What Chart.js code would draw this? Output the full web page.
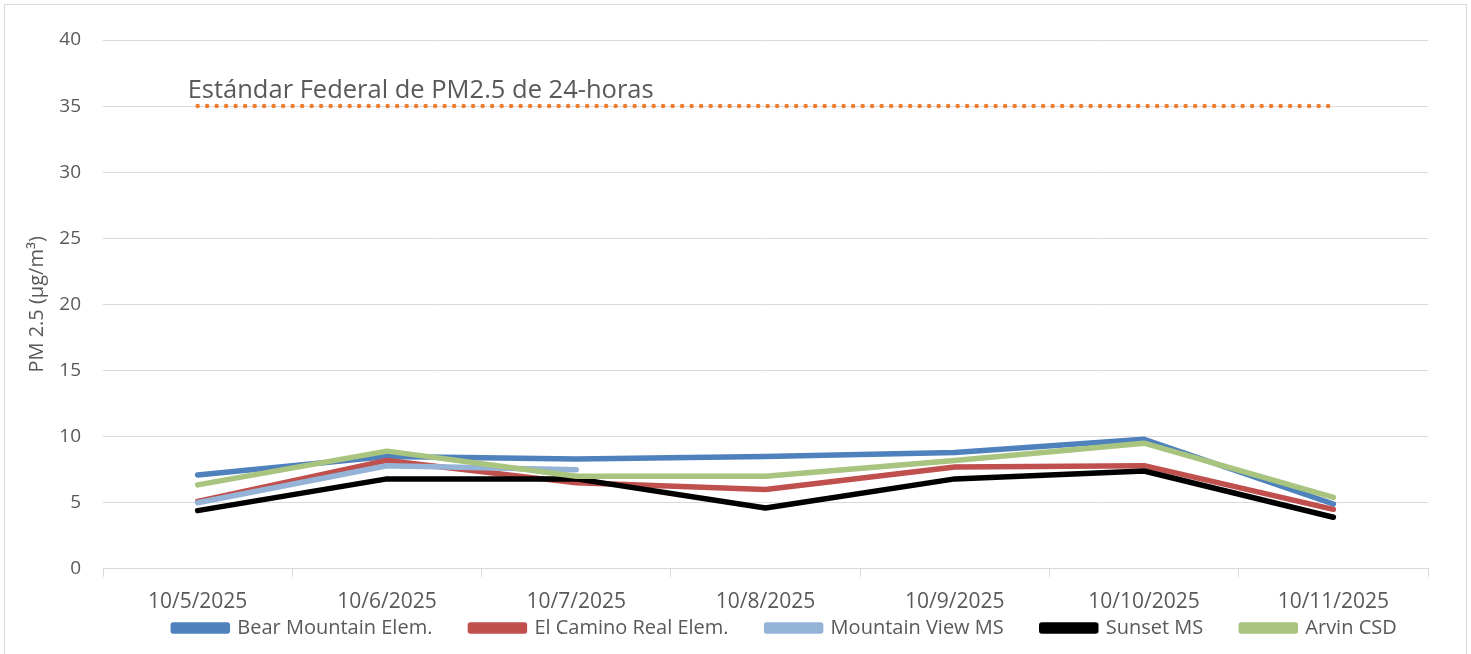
<!DOCTYPE html>
<html>
<head>
<meta charset="utf-8">
<script src="https://cdn.jsdelivr.net/npm/chart.js@4/dist/chart.umd.min.js"></script>
<style>
  html, body { margin: 0; padding: 0; background: #fff; overflow: hidden; }
  .frame { position: absolute; left: 4px; top: 4px; width: 1463px; height: 660px; border: 1px solid #d9d9d9; box-sizing: border-box; }
  .wrap { position: absolute; left: 0; top: 0; width: 1471px; height: 654px; }
</style>
</head>
<body>
<div class="frame"></div>
<div class="wrap"><canvas id="pmChart"></canvas></div>
<script>
const dates = ['10/5/2025', '10/6/2025', '10/7/2025', '10/8/2025', '10/9/2025', '10/10/2025', '10/11/2025'];

const bearMountain = [7.1, 8.5, 8.3, 8.5, 8.8, 9.8, 4.9];
const elCamino     = [5.1, 8.2, 6.5, 6.0, 7.7, 7.8, 4.5];
const mountainView = [5.0, 7.8, 7.5, null, null, null, null];
const sunset       = [4.4, 6.8, 6.8, 4.6, 6.8, 7.4, 3.9];
const arvin        = [6.35, 8.9, 7.0, 7.0, 8.2, 9.5, 5.4];
const federalStd   = [35, 35, 35, 35, 35, 35, 35];
const stdLabel = 'Estándar Federal de PM2.5 de 24-horas';

const grey = '#595959';
const fam = '"Open Sans", "Liberation Sans", sans-serif';

function series(label, data, color, order) {
    return {
        label: label,
        data: data,
        borderColor: color,
        backgroundColor: color,
        borderWidth: 5.5,
        pointRadius: 0,
        tension: 0,
        borderCapStyle: 'round',
        borderJoinStyle: 'round',
        spanGaps: false,
        order: order
    };
}

// writes the standard's caption just above the dotted line
const stdCaption = {
    id: 'stdCaption',
    afterDatasetsDraw(chart) {
        const ctx = chart.ctx;
        const x = chart.scales.x.getPixelForValue(0);
        const y = chart.scales.y.getPixelForValue(35);
        ctx.save();
        ctx.font = '25.5px ' + fam;
        ctx.fillStyle = grey;
        ctx.textBaseline = 'bottom';
        ctx.fillText(stdLabel, x - 10, y - 3);
        ctx.restore();
    }
};

// Excel puts the legend a bit right of centre, just under the dates
const legendNudge = {
    id: 'legendNudge',
    afterLayout(chart) {
        const lg = chart.legend;
        const h = lg.bottom - lg.top;
        lg.left += 71;
        lg.right += 71;
        lg.top = 580;
        lg.bottom = 580 + h;
    }
};

const ctx = document.getElementById('pmChart').getContext('2d');
new Chart(ctx, {
    type: 'line',
    data: {
        labels: dates,
        datasets: [
            series('Bear Mountain Elem.', bearMountain, '#4F81BD', 5),
            series('El Camino Real Elem.', elCamino, '#C0504D', 4),
            series('Mountain View MS', mountainView, '#95B3D7', 3),
            series('Sunset MS', sunset, '#000000', 2),
            series('Arvin CSD', arvin, '#A9C47F', 1),
            {
                label: 'std',
                data: federalStd,
                borderColor: '#ED7D31',
                borderWidth: 4.5,
                borderDash: [0, 9.5],
                borderCapStyle: 'round',
                pointRadius: 0,
                order: 0
            }
        ]
    },
    options: {
        responsive: true,
        maintainAspectRatio: false,
        animation: false,
        layout: { padding: { top: 40, right: 43, left: 0, bottom: -40 } },
        plugins: {
            legend: {
                position: 'bottom',
                labels: {
                    color: grey,
                    font: { size: 20, family: fam },
                    boxWidth: 54,
                    boxHeight: 6,
                    padding: 38,
                    filter: item => item.text !== 'std',
                    sort: (a, b) => a.datasetIndex - b.datasetIndex
                }
            },
            tooltip: { enabled: false }
        },
        scales: {
            x: {
                offset: true,
                afterFit: scale => { scale.height -= 2; },
                grid: {
                    display: true,
                    drawOnChartArea: false,
                    drawTicks: true,
                    tickLength: 8,
                    color: '#d9d9d9',
                    offset: true
                },
                border: { color: '#d9d9d9' },
                ticks: {
                    color: grey,
                    padding: 13,
                    maxRotation: 0,
                    font: { size: 21, family: fam }
                }
            },
            y: {
                min: 0,
                max: 40,
                afterFit: scale => { scale.width = 103; },
                ticks: {
                    stepSize: 5,
                    color: grey,
                    padding: 22,
                    font: { size: 19, family: fam }
                },
                grid: { color: '#d9d9d9', drawTicks: false },
                border: { display: false },
                title: {
                    display: true,
                    text: 'PM 2.5 (µg/m³)',
                    color: grey,
                    padding: { top: 25, bottom: 0 },
                    font: { size: 20, family: fam }
                }
            }
        }
    },
    plugins: [stdCaption, legendNudge]
});
</script>
</body>
</html>
